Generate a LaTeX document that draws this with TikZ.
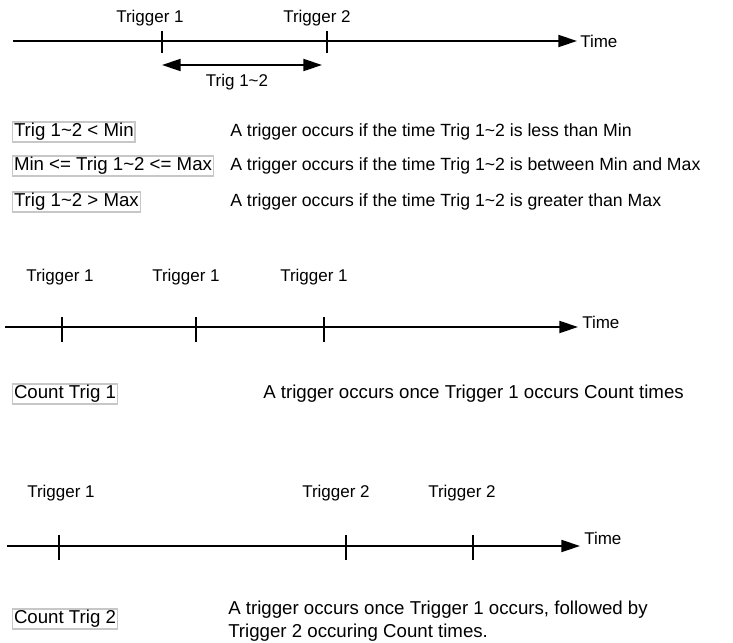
\documentclass[tikz,border=0pt]{standalone}
\usepackage{fontspec}
\setmainfont{Liberation Sans}
\usetikzlibrary{arrows.meta}

\begin{document}
\begin{tikzpicture}[x=0.75pt, y=-0.75pt,
  timeline/.style = {line width=1.5pt, -{Triangle[length=14pt,width=9pt]}},
  span/.style = {line width=1.5pt, {Triangle[length=14pt,width=9pt]}-{Triangle[length=14pt,width=9pt]}},
  tickmark/.style = {line width=0.8pt},
  trig/.style = {font=\fontsize{12.75}{15}\selectfont, inner sep=0pt},
  condbox/.style = {draw=black!22, line width=1pt, anchor=west,
    font=\fontsize{14}{16}\selectfont, inner xsep=1pt, inner ysep=1pt,
    text height=10pt, text depth=3pt},
  note/.style = {font=\fontsize{14}{17.5}\selectfont, inner sep=0pt,
    anchor=west, align=left},
  rownote/.style = {note, font=\fontsize{13.25}{16}\selectfont}]

  \useasboundingbox (0,0) rectangle (733,643);

  % First timeline: Trigger 1 then Trigger 2
  \coordinate (a0) at (13,41);
  \coordinate (a1) at (577,41);
  \draw[timeline] (a0) -- (a1);
  \node[trig, anchor=west] (timeA) at (580,41) {Time};
  \draw[tickmark] (162,31) -- (162,53);
  \draw[tickmark] (327,31) -- (327,53);
  \node[trig] (trigA1) at (150,18) {Trigger 1};
  \node[trig] (trigA2) at (317,18) {Trigger 2};

  % Time between the two triggers
  \coordinate (s0) at (162,65);
  \coordinate (s1) at (322,65);
  \draw[span] (s0) -- (s1);
  \node[trig] (spanlbl) at (237,82) {Trig 1\textasciitilde 2};

  % Conditions on Trig 1~2
  \node[condbox] (lessbox) at (12,132) {Trig 1\textasciitilde 2 < Min};
  \node[condbox] (betwbox) at (12,166) {Min <= Trig 1\textasciitilde 2 <= Max};
  \node[condbox] (morebox) at (12,202) {Trig 1\textasciitilde 2 > Max};
  \node[rownote] (lessnote) at (230,132) {A trigger occurs if the time Trig 1\textasciitilde 2 is less than Min};
  \node[rownote] (betwnote) at (230,166) {A trigger occurs if the time Trig 1\textasciitilde 2 is between Min and Max};
  \node[rownote] (morenote) at (230,202) {A trigger occurs if the time Trig 1\textasciitilde 2 is greater than Max};

  % Second timeline: Trigger 1 repeated
  \coordinate (b0) at (5,327);
  \coordinate (b1) at (578,327);
  \draw[timeline] (b0) -- (b1);
  \node[trig, anchor=west] (timeB) at (582,322) {Time};
  \draw[tickmark] (62,317) -- (62,342);
  \draw[tickmark] (196,317) -- (196,342);
  \draw[tickmark] (324,317) -- (324,342);
  \node[trig] (trigB1) at (60,277) {Trigger 1};
  \node[trig] (trigB2) at (186,277) {Trigger 1};
  \node[trig] (trigB3) at (314,277) {Trigger 1};

  \node[condbox] (countone) at (12,394) {Count Trig 1};
  \node[note] (countonenote) at (263,394) {A trigger occurs once Trigger 1 occurs Count times};

  % Third timeline: Trigger 1 followed by Trigger 2
  \coordinate (c0) at (7,546);
  \coordinate (c1) at (580,546);
  \draw[timeline] (c0) -- (c1);
  \node[trig, anchor=west] (timeC) at (584,538) {Time};
  \draw[tickmark] (59,535) -- (59,560);
  \draw[tickmark] (346,535) -- (346,560);
  \draw[tickmark] (473,535) -- (473,560);
  \node[trig] (trigC1) at (61,493) {Trigger 1};
  \node[trig] (trigC2) at (336,493) {Trigger 2};
  \node[trig] (trigC3) at (462,493) {Trigger 2};

  \node[condbox] (counttwo) at (12,619) {Count Trig 2};
  \node[note] (counttwonote) at (228,621) {A trigger occurs once Trigger 1 occurs, followed by\\Trigger 2 occuring Count times.};

\end{tikzpicture}
\end{document}
